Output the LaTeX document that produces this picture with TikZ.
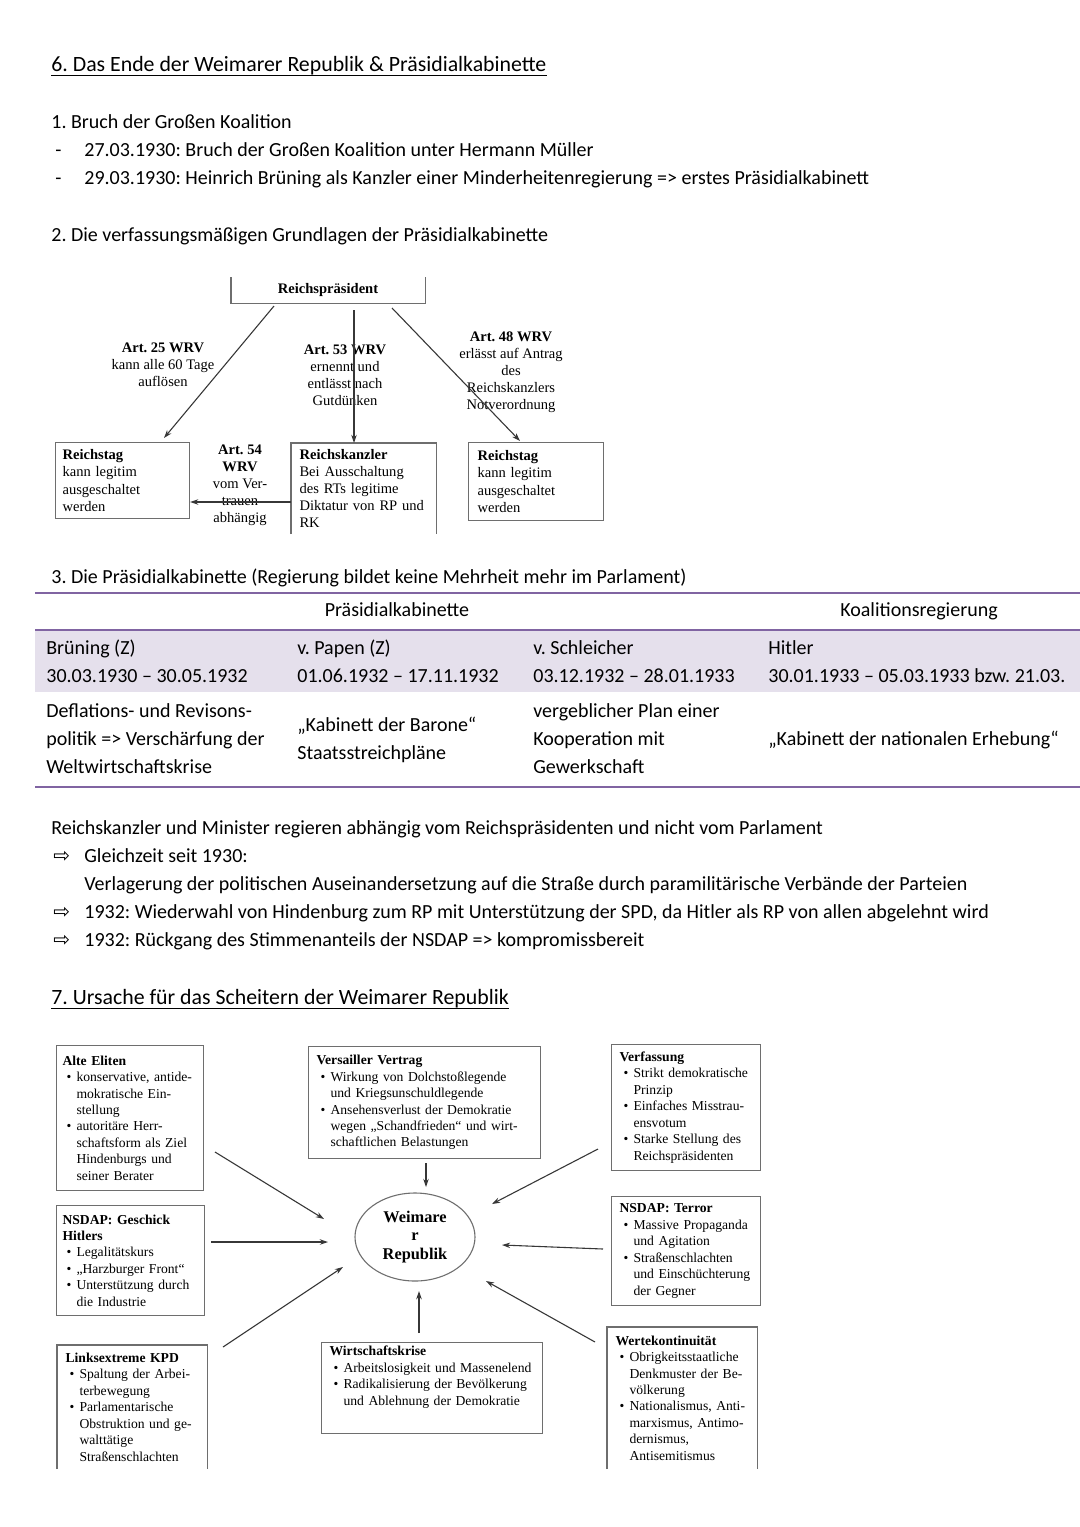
\documentclass[tikz,border=0pt]{standalone}
\usepackage{fontspec}
\setmainfont{Carlito}
\newfontfamily\timesfont{Liberation Serif}
\newfontfamily\symfont{DejaVu Sans}
\usepackage{tikz}
\usetikzlibrary{positioning, arrows.meta, calc, shapes.geometric}
\frenchspacing

\definecolor{tabline}{RGB}{128,100,162}
\definecolor{tabfill}{RGB}{229,224,236}
\definecolor{boxgray}{RGB}{110,110,110}
\definecolor{linegray}{RGB}{55,55,55}

\newcommand{\bul}{\hspace*{2.2pt}\makebox[5.5pt][l]{\textbullet}}
\newcommand{\ind}{\hspace*{7.7pt}}
\newcommand{\arr}{{\symfont\fontsize{11}{11}\selectfont ⇨}}

\begin{document}
\begin{tikzpicture}[
    x=0.55pt, y=-0.55pt,
    >={Stealth[length=4.5pt,width=3pt]},
    txt/.style={anchor=base west, inner sep=0pt, font=\fontsize{11}{13}\selectfont},
    head/.style={txt, font=\fontsize{12}{14}\selectfont},
    mid/.style={txt, anchor=base},
    lbl/.style={inner sep=0pt, align=center, font=\timesfont\fontsize{8}{9.4}\selectfont},
    fbox/.style={draw=boxgray, line width=0.6pt, anchor=north west, inner ysep=2pt,
        align=left, font=\timesfont\fontsize{8}{9.4}\selectfont},
    cbox/.style={draw=boxgray, line width=0.6pt, anchor=north west, inner xsep=4.4pt, inner ysep=2pt,
        align=left, font=\timesfont\fontsize{7.5}{9.05}\selectfont},
    link/.style={->, linegray, line width=0.6pt},
]
\useasboundingbox[fill=white] (0,0) rectangle (1080,1527);

% Abschnitt 6
\node[head] (h6) at (51,71) {6. Das Ende der Weimarer Republik \& Präsidialkabinette};
\draw[line width=0.6pt] ([yshift=-2.3pt]h6.base west) -- ([yshift=-2.3pt]h6.base east);

\node[txt] (s1) at (51,128) {1. Bruch der Großen Koalition};
\node[txt] (d1) at (55,156) {-};
\node[txt] (l1) at (84,156) {27.03.1930: Bruch der Großen Koalition unter Hermann Müller};
\node[txt] (d2) at (55,184) {-};
\node[txt] (l2) at (84,184) {29.03.1930: Heinrich Brüning als Kanzler einer Minderheitenregierung => erstes Präsidialkabinett};

\node[txt] (s2) at (51,241) {2. Die verfassungsmäßigen Grundlagen der Präsidialkabinette};

% Verfassung: Kästen
\node[fbox, draw=none, minimum width=106.15pt, minimum height=13.75pt, font=\timesfont\bfseries\fontsize{8}{9.4}\selectfont] (rp) at (231,277) {Reichspräsident};
\draw[boxgray, line width=0.6pt] (rp.north west) -- (rp.south west) -- (rp.south east) -- (rp.north east);

\node[fbox, inner xsep=3.85pt, text width=66pt, minimum height=41.8pt] (rtl) at (55,442)
    {\textbf{Reichstag}\\kann legitim\\ausgeschaltet\\werden};
\node[fbox, draw=none, inner xsep=4.4pt, text width=70.4pt, minimum height=49.5pt] (rk) at (291,443)
    {\textbf{Reichskanzler}\\Bei Ausschaltung\\des RTs legitime\\Diktatur von RP und\\RK};
\draw[boxgray, line width=0.6pt] (rk.south west) -- (rk.north west) -- (rk.north east) -- (rk.south east);
\node[fbox, inner xsep=4.95pt, text width=64.35pt, minimum height=42.9pt] (rtr) at (468,442)
    {\textbf{Reichstag}\\kann legitim\\ausgeschaltet\\werden};

% Artikel
\node[lbl] (a25) at (163,365) {\textbf{Art. 25 WRV}\\kann alle 60 Tage\\auflösen};
\node[lbl] (a53) at (345,375) {\textbf{Art. 53 WRV}\\ernennt und\\entlässt nach\\Gutdünken};
\node[lbl] (a48) at (511,372) {\textbf{Art. 48 WRV}\\erlässt auf Antrag\\des\\Reichskanzlers\\Notverordnung};
\node[lbl] (a54) at (240,485) {\textbf{Art. 54}\\\textbf{WRV}\\vom Ver-\\trauen\\abhängig};

\coordinate (p25) at (274,306);
\coordinate (e25) at (164,438);
\coordinate (p53) at (354,310);
\coordinate (p48) at (392,308);
\coordinate (e48) at (520,441);
\coordinate (m54) at (0,502);
\draw[link] (p25) -- (e25);
\draw[link] (p53) -- (p53 |- rk.north);
\draw[link] (p48) -- (e48);
\draw[link] (rk.west |- m54) -- (rtl.east |- m54);

% Abschnitt 3: Tabelle
\node[txt] (s3) at (51,583) {3. Die Präsidialkabinette (Regierung bildet keine Mehrheit mehr im Parlament)};
\fill[tabfill] (35,631) rectangle (1080,692);
\draw[tabline, line width=1.1pt] (35,593) -- (1080,593);
\draw[tabline, line width=1.6pt] (35,630) -- (1080,630);
\draw[tabline, line width=1.1pt] (35,787) -- (1080,787);

\node[mid] (th1) at (397,616) {Präsidialkabinette};
\node[mid] (th2) at (919,616) {Koalitionsregierung};

\node[txt] (c11) at (46,654) {Brüning (Z)};
\node[txt] (c12) at (46,682) {30.03.1930 – 30.05.1932};
\node[txt] (c21) at (297,654) {v. Papen (Z)};
\node[txt] (c22) at (297,682) {01.06.1932 – 17.11.1932};
\node[txt] (c31) at (533,654) {v. Schleicher};
\node[txt] (c32) at (533,682) {03.12.1932 – 28.01.1933};
\node[txt] (c41) at (768,654) {Hitler};
\node[txt] (c42) at (768,682) {30.01.1933 – 05.03.1933 bzw. 21.03.};

\node[txt] (c13) at (46,717) {Deflations- und Revisons-};
\node[txt] (c14) at (46,745) {politik => Verschärfung der};
\node[txt] (c15) at (46,773) {Weltwirtschaftskrise};
\node[txt] (c23) at (297,731) {„Kabinett der Barone“};
\node[txt] (c24) at (297,759) {Staatsstreichpläne};
\node[txt] (c33) at (533,717) {vergeblicher Plan einer};
\node[txt] (c34) at (533,745) {Kooperation mit};
\node[txt] (c35) at (533,773) {Gewerkschaft};
\node[txt] (c43) at (768,745) {„Kabinett der nationalen Erhebung“};

% Folgen
\node[txt] (f0) at (51,834) {Reichskanzler und Minister regieren abhängig vom Reichspräsidenten und nicht vom Parlament};
\node[txt] (f1a) at (53,862) {\arr};
\node[txt] (f1) at (84,862) {Gleichzeit seit 1930:};
\node[txt] (f1b) at (84,890) {Verlagerung der politischen Auseinandersetzung auf die Straße durch paramilitärische Verbände der Parteien};
\node[txt] (f2a) at (53,918) {\arr};
\node[txt] (f2) at (84,918) {1932: Wiederwahl von Hindenburg zum RP mit Unterstützung der SPD, da Hitler als RP von allen abgelehnt wird};
\node[txt] (f3a) at (53,946) {\arr};
\node[txt] (f3) at (84,946) {1932: Rückgang des Stimmenanteils der NSDAP => kompromissbereit};

% Abschnitt 7
\node[head] (h7) at (51,1004) {7. Ursache für das Scheitern der Weimarer Republik};
\draw[line width=0.6pt] ([yshift=-2.3pt]h7.base west) -- ([yshift=-2.3pt]h7.base east);

\node[cbox, inner xsep=3.3pt, text width=74.25pt, minimum height=79.75pt] (eliten) at (56,1045)
    {\textbf{Alte Eliten}\\
     \bul konservative, antide-\\\ind mokratische Ein-\\\ind stellung\\
     \bul autoritäre Herr-\\\ind schaftsform als Ziel\\\ind Hindenburgs und\\\ind seiner Berater};
\node[cbox, text width=118.8pt, minimum height=61.6pt] (versailles) at (308,1046)
    {\textbf{Versailler Vertrag}\\
     \bul Wirkung von Dolchstoßlegende\\\ind und Kriegsunschuldlegende\\
     \bul Ansehensverlust der Demokratie\\\ind wegen „Schandfrieden“ und wirt-\\\ind schaftlichen Belastungen};
\node[cbox, text width=73.15pt, minimum height=69.3pt] (verfassung) at (611,1044)
    {\textbf{Verfassung}\\
     \bul Strikt demokratische\\\ind Prinzip\\
     \bul Einfaches Misstrau-\\\ind ensvotum\\
     \bul Starke Stellung des\\\ind Reichspräsidenten};
\node[cbox, inner xsep=3.3pt, text width=74.8pt, minimum height=60.5pt] (geschick) at (56,1205)
    {\textbf{NSDAP: Geschick}\\\textbf{Hitlers}\\
     \bul Legalitätskurs\\
     \bul „Harzburger Front“\\
     \bul Unterstützung durch\\\ind die Industrie};
\node[cbox, text width=73.15pt, minimum height=59.95pt] (terror) at (611,1196)
    {\textbf{NSDAP: Terror}\\
     \bul Massive Propaganda\\\ind und Agitation\\
     \bul Straßenschlachten\\\ind und Einschüchterung\\\ind der Gegner};
\node[cbox, draw=none, text width=73.15pt, minimum height=67.65pt] (kpd) at (57,1345)
    {\textbf{Linksextreme KPD}\\
     \bul Spaltung der Arbei-\\\ind terbewegung\\
     \bul Parlamentarische\\\ind Obstruktion und ge-\\\ind walttätige\\\ind Straßenschlachten};
\draw[boxgray, line width=0.6pt] (kpd.south west) -- (kpd.north west) -- (kpd.north east) -- (kpd.south east);
\node[cbox, text width=112.75pt] (wirtschaft) at (321,1342)
    {\textbf{Wirtschaftskrise}\\
     \bul Arbeitslosigkeit und Massenelend\\
     \bul Radikalisierung der Bevölkerung\\\ind und Ablehnung der Demokratie\\[4.5pt]~};
\node[cbox, draw=none, text width=73.15pt, minimum height=77.55pt] (werte) at (607,1327)
    {\textbf{Wertekontinuität}\\
     \bul Obrigkeitsstaatliche\\\ind Denkmuster der Be-\\\ind völkerung\\
     \bul Nationalismus, Anti-\\\ind marxismus, Antimo-\\\ind dernismus,\\\ind Antisemitismus};
\draw[boxgray, line width=0.6pt] (werte.south west) -- (werte.north west) -- (werte.north east) -- (werte.south east);

\node[ellipse, draw=boxgray, line width=0.6pt, minimum width=66pt, minimum height=48.4pt, inner sep=0pt,
    align=center, font=\timesfont\bfseries\fontsize{9}{10.2}\selectfont] (weimar) at (415,1237)
    {Weimare\\r\\Republik};

% Pfeile zur Republik
\coordinate (q1) at (215,1152);  \coordinate (z1) at (324,1219);
\coordinate (q2) at (211,1242);  \coordinate (z2) at (328,1242);
\coordinate (q3) at (223,1347);  \coordinate (z3) at (343,1267);
\coordinate (q4) at (426,1163);  \coordinate (z4) at (426,1187);
\coordinate (q5) at (419,1333);  \coordinate (z5) at (419,1291);
\coordinate (q6) at (598,1149);  \coordinate (z6) at (492,1204);
\coordinate (q7) at (603,1249);  \coordinate (z7) at (502,1245);
\coordinate (q8) at (595,1342);  \coordinate (z8) at (486,1281);
\foreach \i in {1,...,8}
    \draw[link] (q\i) -- (z\i);

\end{tikzpicture}
\end{document}
